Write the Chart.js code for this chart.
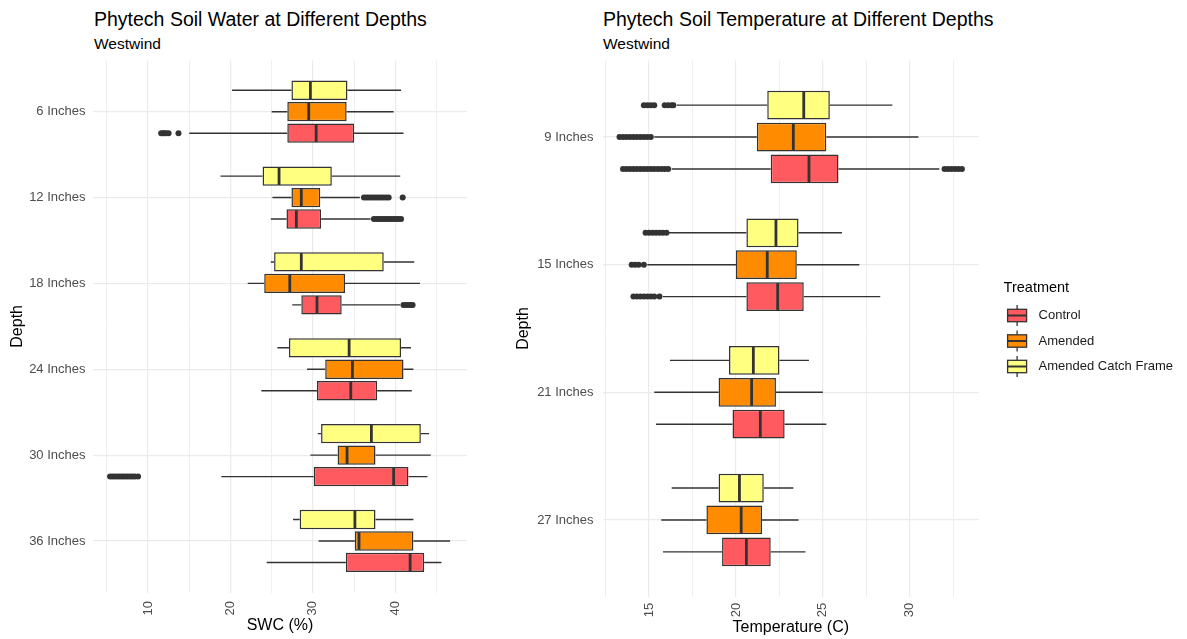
<!DOCTYPE html>
<html><head><meta charset="utf-8">
<script src="https://cdn.jsdelivr.net/npm/chart.js@4.4.1/dist/chart.umd.min.js"></script>
<style>
html,body{margin:0;padding:0;background:#fff;}
#wrap{position:relative;width:1187px;height:639px;overflow:hidden;background:#fff;font-family:"Liberation Sans",Arial,sans-serif;}
canvas{position:absolute;top:0;}
.t{position:absolute;white-space:nowrap;color:#000;line-height:1;}
</style></head><body>
<div id="wrap">
<div class="t" style="left:94px;top:9.5px;font-size:19.5px">Phytech Soil Water at Different Depths</div>
<div class="t" style="left:94px;top:36.4px;font-size:15.5px">Westwind</div>
<div class="t" style="left:603px;top:9.5px;font-size:19.5px">Phytech Soil Temperature at Different Depths</div>
<div class="t" style="left:603px;top:36.4px;font-size:15.5px">Westwind</div>
<canvas id="c1" width="480" height="639" style="left:0px"></canvas>
<canvas id="c2" width="787" height="639" style="left:400px"></canvas>
</div>
<script>
// ---------- DATA ----------
const treatments = ['Amended Catch Frame', 'Amended', 'Control'];
const colors = ['#FFFF80', '#FF8C00', '#FF5A5F'];

// Soil water (SWC %) – each entry: [lower whisker, Q1, median, Q3, upper whisker]
const swcDepths = ['6 Inches', '12 Inches', '18 Inches', '24 Inches', '30 Inches', '36 Inches'];
const swcControl = [
  [15.0, 26.9, 30.4, 35.0, 41.0],
  [24.9, 26.8, 28.0, 31.0, 37.0],
  [27.5, 28.6, 30.5, 33.5, 40.6],
  [23.75, 30.5, 34.6, 37.8, 42.0],
  [18.9, 30.1, 39.8, 41.6, 43.9],
  [24.4, 34.0, 41.8, 43.5, 45.6]
];
const swcAmended = [
  [25.0, 26.9, 29.5, 34.1, 39.8],
  [25.1, 27.4, 28.6, 30.9, 35.7],
  [22.1, 24.1, 27.2, 33.9, 43.0],
  [29.3, 31.5, 34.8, 41.0, 42.2],
  [29.7, 33.0, 34.15, 37.6, 44.3],
  [30.7, 35.1, 35.6, 42.2, 46.65]
];
const swcCatch = [
  [20.2, 27.4, 29.7, 34.2, 40.7],
  [18.8, 23.9, 25.9, 32.3, 40.6],
  [24.9, 25.3, 28.6, 38.6, 42.3],
  [25.7, 27.1, 34.4, 40.7, 41.9],
  [30.6, 31.0, 37.1, 43.1, 44.1],
  [27.6, 28.4, 35.1, 37.6, 42.2]
];
const swcControlOut = [
  [11.6, 11.8, 12.0, 12.2, 12.5, 13.7],
  [37.4, 37.7, 38.0, 38.3, 38.6, 38.9, 39.2, 39.5, 39.8, 40.1, 40.4, 40.7],
  [41.0, 41.3, 41.6, 41.9, 42.1],
  [],
  [5.4, 5.7, 6.0, 6.3, 6.6, 6.9, 7.2, 7.5, 7.8, 8.1, 8.4, 8.8],
  []
];
const swcAmendedOut = [
  [],
  [36.2, 36.5, 36.8, 37.1, 37.4, 37.7, 38.0, 38.3, 38.6, 38.9, 39.2, 40.9],
  [], [], [], []
];
const swcCatchOut = [[], [], [], [], [], []];
const swcTicks = [5, 10, 15, 20, 25, 30, 35, 40, 45];

// Soil temperature (C)
const tempDepths = ['9 Inches', '15 Inches', '21 Inches', '27 Inches'];
const tempControl = [
  [16.3, 22.0, 24.2, 25.9, 31.7],
  [15.8, 20.6, 22.4, 23.9, 28.3],
  [15.4, 19.8, 21.4, 22.8, 25.2],
  [15.8, 19.2, 20.6, 22.0, 24.0]
];
const tempAmended = [
  [15.3, 21.2, 23.3, 25.2, 30.5],
  [14.9, 20.0, 21.8, 23.5, 27.1],
  [15.3, 19.0, 20.9, 22.3, 25.0],
  [15.7, 18.3, 20.3, 21.5, 23.6]
];
const tempCatch = [
  [16.6, 21.8, 23.9, 25.4, 29.0],
  [16.1, 20.6, 22.3, 23.6, 26.1],
  [16.2, 19.6, 21.0, 22.5, 24.2],
  [16.3, 19.0, 20.2, 21.6, 23.3]
];
const tempControlOut = [
  [13.5, 13.7, 13.9, 14.1, 14.3, 14.5, 14.7, 14.9, 15.1, 15.3, 15.5, 15.7, 15.9, 16.1,
   32.0, 32.2, 32.4, 32.6, 32.8, 33.0],
  [14.1, 14.3, 14.5, 14.7, 14.9, 15.1, 15.3, 15.6],
  [], []
];
const tempAmendedOut = [
  [13.3, 13.5, 13.7, 13.9, 14.1, 14.3, 14.5, 14.7, 14.9, 15.1],
  [14.0, 14.2, 14.4, 14.7],
  [], []
];
const tempCatchOut = [
  [14.7, 14.9, 15.1, 15.3, 15.9, 16.1, 16.3, 16.4],
  [14.8, 15.0, 15.2, 15.4, 15.6, 15.8, 16.0],
  [], []
];
const tempTicks = [12.5, 15, 17.5, 20, 22.5, 25, 27.5, 30, 32.5];

// ---------- STYLE / HELPERS ----------
const FONT = '"Liberation Sans", Arial, Helvetica, sans-serif';
const EDGE = '#333333';
const GRID = '#ebebeb';
Chart.defaults.font.family = FONT;

function boxDatasets(series, outs) {
  return series.map((s, k) => ({
    label: treatments[k],
    data: s.map((st, i) => ({ y: i + 1, x: [st[1], st[3]] })),
    stats: s,
    outliers: outs[k],
    backgroundColor: colors[k],
    borderColor: EDGE,
    borderWidth: 1.5,
    borderSkipped: false,
    categoryPercentage: 0.75,
    barPercentage: 0.9
  }));
}

const boxParts = {
  id: 'boxParts',
  afterDatasetsDraw(chart) {
    const ctx = chart.ctx;
    const xs = chart.scales.x;
    const px = v => xs.getPixelForValue(v);
    chart.data.datasets.forEach((ds, di) => {
      const meta = chart.getDatasetMeta(di);
      meta.data.forEach((bar, i) => {
        const s = ds.stats[i];
        const p = bar.getProps(['y', 'height'], true);
        const yc = p.y, h = p.height;
        ctx.save();
        ctx.strokeStyle = EDGE;
        ctx.lineWidth = 1.4;
        ctx.beginPath();
        ctx.moveTo(px(s[0]), yc); ctx.lineTo(px(s[1]), yc);
        ctx.moveTo(px(s[3]), yc); ctx.lineTo(px(s[4]), yc);
        ctx.stroke();
        ctx.lineWidth = 2.8;
        ctx.beginPath();
        ctx.moveTo(px(s[2]), yc - h / 2 + 0.8);
        ctx.lineTo(px(s[2]), yc + h / 2 - 0.8);
        ctx.stroke();
        ctx.fillStyle = EDGE;
        ds.outliers[i].forEach(v => {
          ctx.beginPath();
          ctx.arc(px(v), yc, 3, 0, Math.PI * 2);
          ctx.fill();
        });
        ctx.restore();
      });
    });
  }
};

const legendIcons = {
  id: 'legendIcons',
  afterDraw(chart) {
    const lg = chart.legend;
    if (!lg || !lg.legendHitBoxes || !lg.legendItems) return;
    const ctx = chart.ctx;
    lg.legendItems.forEach((item, k) => {
      const hb = lg.legendHitBoxes[k];
      const ds = chart.data.datasets[item.datasetIndex];
      const l = hb.left + 0.5, w = 19;
      const cx = l + w / 2, cy = hb.top + hb.height / 2;
      ctx.save();
      ctx.strokeStyle = EDGE;
      ctx.lineWidth = 1.3;
      ctx.beginPath();
      ctx.moveTo(cx, cy - 10.5); ctx.lineTo(cx, cy - 6.2);
      ctx.moveTo(cx, cy + 6.2); ctx.lineTo(cx, cy + 10.5);
      ctx.stroke();
      ctx.fillStyle = ds.backgroundColor;
      ctx.fillRect(l, cy - 6.2, w, 12.4);
      ctx.strokeRect(l, cy - 6.2, w, 12.4);
      ctx.lineWidth = 2;
      ctx.beginPath();
      ctx.moveTo(l, cy); ctx.lineTo(l + w, cy);
      ctx.stroke();
      ctx.restore();
    });
  }
};

function panelOptions(cfg) {
  const scales = {
    x: {
      type: 'linear',
      min: cfg.xmin, max: cfg.xmax,
      afterBuildTicks: sc => { sc.ticks = cfg.xticks.map(v => ({ value: v })); },
      afterFit: sc => { sc.height = cfg.xHeight; },
      grid: {
        drawTicks: false,
        color: GRID,
        lineWidth: c => (c.tick && cfg.isMajor(c.tick.value)) ? 1.2 : 0.8
      },
      border: { display: false },
      ticks: {
        autoSkip: false, minRotation: 90, maxRotation: 90,
        padding: cfg.xTickPad,
        color: '#4d4d4d', font: { size: 13 },
        callback: v => cfg.isMajor(v) ? String(v) : ''
      },
      title: {
        display: true, text: cfg.xTitle, color: '#000',
        font: { size: 16 }, padding: { top: 0, bottom: cfg.xTitlePad }
      }
    },
    y: {
      type: 'linear',
      reverse: true,
      offset: false,
      min: 0.4, max: cfg.cats.length + 0.6,
      afterBuildTicks: sc => { sc.ticks = cfg.cats.map((c, i) => ({ value: i + 1 })); },
      afterFit: sc => { sc.width = cfg.yWidth; },
      grid: { offset: false, drawTicks: false, color: GRID, lineWidth: 1.2 },
      border: { display: false },
      ticks: {
        autoSkip: false, padding: cfg.yTickPad,
        color: '#4d4d4d', font: { size: 13 },
        callback: v => cfg.cats[Math.round(v) - 1]
      },
      title: {
        display: true, text: 'Depth', color: '#000',
        font: { size: 16 }, padding: { top: cfg.yTitlePad, bottom: 0 }
      }
    }
  };
  if (cfg.spacer) {
    scales.sp = {
      type: 'linear', position: 'right', display: false,
      afterFit: sc => { sc.width = cfg.spacer; }
    };
  }
  return {
    responsive: false,
    animation: false,
    indexAxis: 'y',
    layout: { padding: cfg.padding },
    scales,
    plugins: {
      tooltip: { enabled: false },
      title: { display: false },
      legend: cfg.legend || { display: false }
    }
  };
}

// ---------- LEFT PANEL ----------
new Chart(document.getElementById('c1'), {
  type: 'bar',
  data: {
    labels: swcDepths,
    datasets: boxDatasets([swcCatch, swcAmended, swcControl], [swcCatchOut, swcAmendedOut, swcControlOut])
  },
  options: panelOptions({
    cats: swcDepths, xmin: 3.33, xmax: 48.7, xticks: swcTicks,
    isMajor: v => v % 10 === 0,
    xTitle: 'SWC (%)', xHeight: 46.5, xTickPad: 8.5, xTitlePad: 3.9,
    yWidth: 93, yTickPad: 7.5, yTitlePad: 7.9,
    padding: { top: 60.2, right: 13, bottom: 0, left: 0 }
  }),
  plugins: [boxParts]
});

// ---------- RIGHT PANEL ----------
new Chart(document.getElementById('c2'), {
  type: 'bar',
  data: {
    labels: tempDepths,
    datasets: boxDatasets([tempCatch, tempAmended, tempControl], [tempCatchOut, tempAmendedOut, tempControlOut])
  },
  options: panelOptions({
    cats: tempDepths, xmin: 12.35, xmax: 33.96, xticks: tempTicks,
    isMajor: v => v % 5 === 0,
    xTitle: 'Temperature (C)', xHeight: 42.5, xTickPad: 6.2, xTitlePad: 1.9,
    yWidth: 203, yTickPad: 9.5, yTitlePad: 114.4,
    spacer: 25,
    padding: { top: 60.5, right: 4, bottom: 0, left: 0 },
    legend: {
      display: true, position: 'right', reverse: true, fullSize: false,
      title: {
        display: true, text: 'Treatment', position: 'start', color: '#000',
        font: { size: 14.5 }, padding: { top: 4.25, bottom: 3.35 }
      },
      labels: {
        boxWidth: 25, boxHeight: 22, padding: 3.5, color: '#1a1a1a',
        font: { size: 13 },
        generateLabels: chart => chart.data.datasets.map((ds, i) => ({
          text: ds.label, fillStyle: 'rgba(0,0,0,0)', strokeStyle: 'rgba(0,0,0,0)',
          lineWidth: 0, hidden: false, datasetIndex: i, fontColor: '#1a1a1a'
        }))
      }
    }
  }),
  plugins: [boxParts, legendIcons]
});
</script>
</body></html>
